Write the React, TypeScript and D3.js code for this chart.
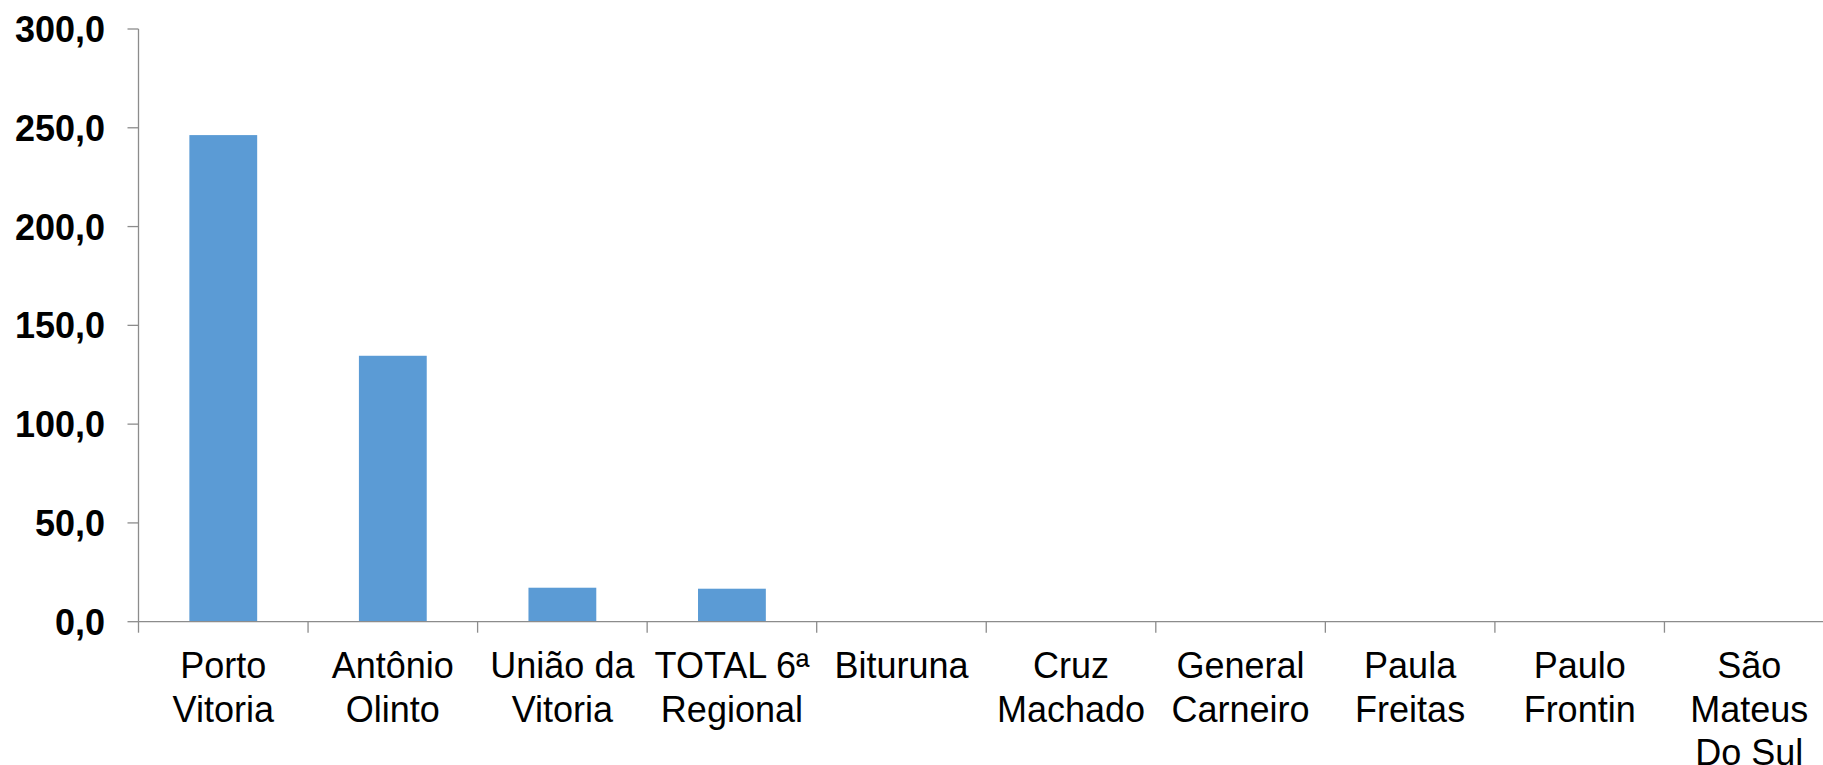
import { useEffect, useRef } from 'react';
import * as d3 from 'd3';

// categories (line breaks follow the wrapping in the original chart)
const categories = [
  'Porto\nVitoria',
  'Antônio\nOlinto',
  'União da\nVitoria',
  'TOTAL 6ª\nRegional',
  'Bituruna',
  'Cruz\nMachado',
  'General\nCarneiro',
  'Paula\nFreitas',
  'Paulo\nFrontin',
  'São\nMateus\nDo Sul',
];

const values = [246.3, 134.6, 17.2, 16.7, 0, 0, 0, 0, 0, 0];

const yTicks = [0, 50, 100, 150, 200, 250, 300];

const W = 1823;
const H = 765;

export default function App() {
  const svgRef = useRef<SVGSVGElement>(null);

  useEffect(() => {
    if (!svgRef.current) return;
    const svg = d3.select(svgRef.current);
    svg.selectAll('*').remove();

    const left = 138.5;
    const right = 1834;
    const top = 29;
    const bottom = 621.7;
    const font = '"Liberation Sans", Arial, sans-serif';
    const axisColor = '#8c8c8c';

    const x = d3.scaleBand<number>()
      .domain(categories.map((_, i) => i))
      .range([left, right]);

    const y = d3.scaleLinear().domain([0, 300]).range([bottom, top]);

    // bars
    const bw = x.bandwidth() * 0.4;
    svg.append('g')
      .selectAll('rect')
      .data(values)
      .join('rect')
      .attr('x', (_, i) => x(i)! + (x.bandwidth() - bw) / 2)
      .attr('y', d => y(d))
      .attr('width', bw)
      .attr('height', d => bottom - y(d))
      .attr('fill', '#5b9bd5');

    // y axis
    const ya = svg.append('g');
    ya.append('line')
      .attr('x1', left).attr('x2', left)
      .attr('y1', top).attr('y2', bottom)
      .attr('stroke', axisColor).attr('stroke-width', 1.3);
    ya.selectAll('line.tick')
      .data(yTicks)
      .join('line')
      .attr('class', 'tick')
      .attr('x1', left - 11).attr('x2', left)
      .attr('y1', d => y(d)).attr('y2', d => y(d))
      .attr('stroke', axisColor).attr('stroke-width', 1.3);
    ya.selectAll('text')
      .data(yTicks)
      .join('text')
      .attr('x', 105)
      .attr('y', d => y(d))
      .attr('dy', '0.36em')
      .attr('text-anchor', 'end')
      .style('font-family', font)
      .style('font-size', '36px')
      .style('font-weight', 'bold')
      .attr('fill', '#000')
      .text(d => d.toFixed(1).replace('.', ','));

    // x axis
    const xa = svg.append('g');
    xa.append('line')
      .attr('x1', left).attr('x2', right)
      .attr('y1', bottom).attr('y2', bottom)
      .attr('stroke', axisColor).attr('stroke-width', 1.3);
    const edges = categories.map((_, i) => x(i)!).concat([right]);
    xa.selectAll('line.tick')
      .data(edges)
      .join('line')
      .attr('class', 'tick')
      .attr('x1', d => d).attr('x2', d => d)
      .attr('y1', bottom).attr('y2', bottom + 11)
      .attr('stroke', axisColor).attr('stroke-width', 1.3);

    const labels = xa.selectAll('text')
      .data(categories)
      .join('text')
      .attr('text-anchor', 'middle')
      .style('font-family', font)
      .style('font-size', '36px')
      .attr('fill', '#000');
    labels.each(function (d, i) {
      const t = d3.select(this);
      d.split('\n').forEach((line, k) => {
        t.append('tspan')
          .attr('x', x(i)! + x.bandwidth() / 2)
          .attr('y', 678 + k * 43.5)
          .text(line);
      });
    });
  }, []);

  return (
    <div style={{ position: 'fixed', left: 0, top: 0, width: W, height: H, overflow: 'hidden', background: '#fff' }}>
      <svg ref={svgRef} width={W} height={H} />
    </div>
  );
}
